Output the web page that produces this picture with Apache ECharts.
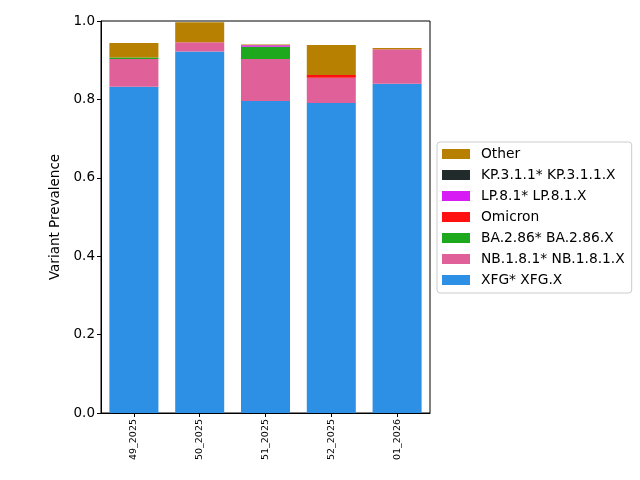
<!DOCTYPE html>
<html><head><meta charset="utf-8">
<script src="https://cdn.jsdelivr.net/npm/echarts@6/dist/echarts.min.js"></script>
<style>html,body{margin:0;padding:0;background:#fff}#c{width:640px;height:480px}</style>
</head><body><div id="c"></div>
<script>
const categories = ['49_2025','50_2025','51_2025','52_2025','01_2026'];
const xfg      = [0.832, 0.922, 0.796, 0.791, 0.840];
const nb181    = [0.071, 0.024, 0.107, 0.064, 0.088];
const ba286    = [0.004, 0.000, 0.031, 0.000, 0.000];
const omicron  = [0.000, 0.000, 0.000, 0.007, 0.000];
const lp81     = [0.000, 0.000, 0.004, 0.000, 0.000];
const kp311    = [0.000, 0.000, 0.000, 0.000, 0.000];
const other    = [0.037, 0.051, 0.002, 0.077, 0.003];
const yTicks = [0, 0.2, 0.4, 0.6, 0.8, 1.0];

const seriesDefs = [
  ['XFG* XFG.X', xfg, '#2E90E5'],
  ['NB.1.8.1* NB.1.8.1.X', nb181, '#E0619A'],
  ['BA.2.86* BA.2.86.X', ba286, '#1DA81D'],
  ['Omicron', omicron, '#FF1111'],
  ['LP.8.1* LP.8.1.X', lp81, '#D61BF5'],
  ['KP.3.1.1* KP.3.1.1.X', kp311, '#222B2B'],
  ['Other', other, '#B88000']
];
const chart = echarts.init(document.getElementById('c'), null, {renderer:'canvas'});
const font = 'DejaVu Sans';
chart.setOption({
  animation:false,
  backgroundColor:'#fff',
  textStyle:{fontFamily:font},
  grid:{left:101, top:21, width:329, height:392, show:true, borderColor:'#000', borderWidth:1, backgroundColor:'transparent'},
  legend:{
    orient:'vertical', left:437, top:142,
    data: seriesDefs.map(d=>d[0]).reverse(),
    itemWidth:28, itemHeight:10, itemGap:7, icon:'rect',
    padding:[5,7,6,5],
    borderColor:'#ccc', borderWidth:1, borderRadius:3,
    textStyle:{fontFamily:font, fontSize:13.8, color:'#000', padding:[0,0,0,6]}
  },
  xAxis:{
    type:'category', data:categories,
    axisLine:{show:true, lineStyle:{color:'#000'}},
    axisTick:{show:true, alignWithLabel:true, length:4, inside:false, lineStyle:{color:'#000'}},
    axisLabel:{rotate:90, fontSize:9.5, color:'#000', fontFamily:font, margin:6}
  },
  yAxis:{
    type:'value', min:0, max:1, interval:0.2,
    name:'Variant Prevalence', nameLocation:'middle', nameGap:35,
    nameTextStyle:{fontSize:13.5, color:'#000', fontFamily:font},
    splitLine:{show:false},
    axisLine:{show:true, lineStyle:{color:'#000'}},
    axisTick:{show:true, length:4, lineStyle:{color:'#000'}},
    axisLabel:{fontSize:13.5, color:'#000', fontFamily:font, margin:6, formatter:v=>v.toFixed(1)}
  },
  series: seriesDefs.map(d=>({
    name:d[0], type:'bar', stack:'s', data:d[1], barWidth:'74.5%',
    itemStyle:{color:d[2]}
  }))
});
</script></body></html>
